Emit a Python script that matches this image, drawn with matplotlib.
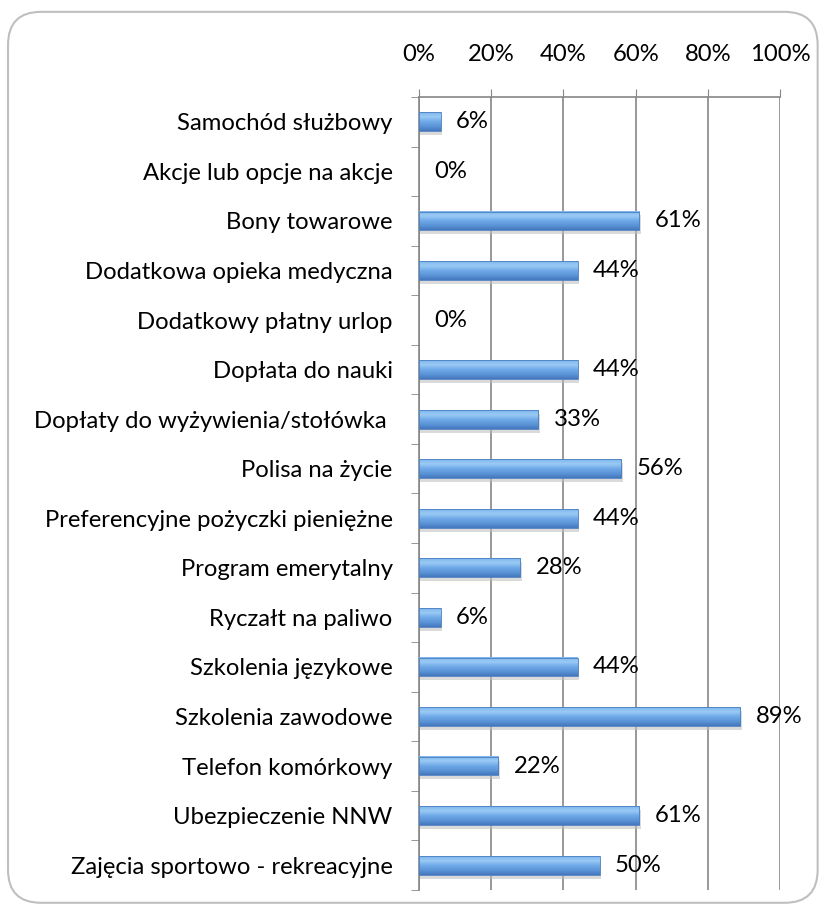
import numpy as np
import matplotlib.pyplot as plt
from matplotlib.patches import FancyBboxPatch
from matplotlib.colors import LinearSegmentedColormap

# dane
kategorie = ["Samochód służbowy", "Akcje lub opcje na akcje", "Bony towarowe",
             "Dodatkowa opieka medyczna", "Dodatkowy płatny urlop", "Dopłata do nauki",
             "Dopłaty do wyżywienia/stołówka ", "Polisa na życie",
             "Preferencyjne pożyczki pieniężne", "Program emerytalny", "Ryczałt na paliwo",
             "Szkolenia językowe", "Szkolenia zawodowe", "Telefon komórkowy",
             "Ubezpieczenie NNW", "Zajęcia sportowo - rekreacyjne"]
wartosci = [6, 0, 61, 44, 0, 44, 33, 56, 44, 28, 6, 44, 89, 22, 61, 50]
ticki = [0, 20, 40, 60, 80, 100]

plt.rcParams['font.family'] = ['Lato', 'DejaVu Sans']
fs = 17.2

fig = plt.figure(figsize=(8.27, 9.11), dpi=100)

# ramka z zaokraglonymi rogami
ramka = FancyBboxPatch((0.0097, 0.009), 0.979, 0.978, boxstyle="round,pad=0,rounding_size=0.04",
                       transform=fig.transFigure, facecolor="white", edgecolor="#bfbfbf", lw=1.5,
                       mutation_aspect=827 / 911, zorder=-1)
fig.patches.append(ramka)

ax = fig.add_axes([0.5067, 0.0231, 0.4365, 0.8704])
ax.set_facecolor("none")

n = len(kategorie)
y = np.arange(n)
h = 0.38

# gradient: gora jasna, dol ciemny
cmap = LinearSegmentedColormap.from_list("bar", ["#7fb6ec", "#9acbf5", "#6fa9e8", "#5b95d8", "#4577bd"])
grad = np.linspace(0, 1, 50).reshape(-1, 1)

for i, v in enumerate(wartosci):
    if v > 0:
        # cien
        ax.barh(y[i] + 0.08, v, height=h, left=0.4, color="#bdbdbd", alpha=0.55, zorder=2)
        ax.imshow(grad, cmap=cmap, aspect="auto", extent=(0, v, y[i] + h / 2, y[i] - h / 2),
                  zorder=3, interpolation="bicubic")
        ax.barh(y[i], v, height=h, color="none", edgecolor="#4a7fc0", lw=0.6, zorder=4)
    ax.annotate(f"{v}%", (v, y[i]), xytext=(11, 0), textcoords="offset points",
                va="center", ha="left", fontsize=fs, color="black", zorder=5)

ax.set_xlim(0, 100)
ax.set_ylim(n - 0.5, -0.5)
ax.set_xticks(ticki)
ax.set_xticklabels([f"{t}%" for t in ticki], fontsize=fs)
ax.xaxis.tick_top()
ax.tick_params(axis="x", length=6, color="#868686", pad=17)
ax.grid(axis="x", color="#868686", lw=1.2, zorder=1)

ax.set_yticks(y)
ax.set_yticklabels(kategorie, fontsize=fs)
ax.set_yticks(np.arange(n + 1) - 0.5, minor=True)
ax.tick_params(axis="y", which="major", length=0, pad=19)
ax.tick_params(axis="y", which="minor", length=6, color="#868686")

for s in ["bottom", "right"]:
    ax.spines[s].set_visible(False)
for s in ["top", "left"]:
    ax.spines[s].set_color("#868686")
    ax.spines[s].set_linewidth(1.2)

plt.savefig("out.png", dpi=100)
